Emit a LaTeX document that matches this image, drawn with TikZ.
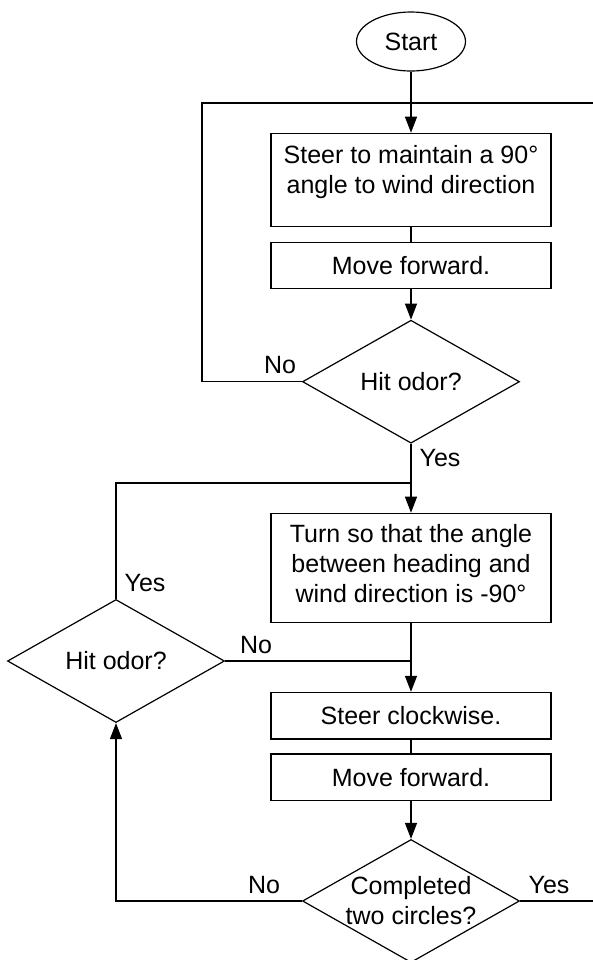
\documentclass[tikz,border=0pt]{standalone}
\usepackage{fontspec}
\setmainfont{Liberation Sans}
\usetikzlibrary{arrows.meta,shapes.geometric}
\tikzset{>/.tip={Triangle[length=8pt,width=6pt]}}

\begin{document}
\begin{tikzpicture}[x=0.5pt,y=-0.5pt,line width=0.6pt,
  font=\fontsize{12.5pt}{15pt}\selectfont,
  box/.style={draw,rectangle,align=center,inner sep=0pt,minimum width=140pt},
  decision/.style={draw,diamond,aspect=1.76,align=center,inner sep=0pt,minimum width=108.5pt,minimum height=61.5pt},
  term/.style={draw,ellipse,inner sep=0pt,minimum width=54.5pt,minimum height=29.5pt}]
\useasboundingbox (0,0) rectangle (593,960);
\node[term] (start) at (411,41.5) {Start};
\node[box,minimum height=46.7pt,text depth=10.3pt] (steer) at (411,180) {Steer to maintain a 90°\\angle to wind direction};
\node[box,minimum height=23pt] (move) at (411,265.3) {Move forward.};
\node[decision] (hit) at (411,381.7) {Hit odor?};
\node[box,minimum height=54.5pt,text depth=4.8pt] (turn) at (411,567.8) {Turn so that the angle\\between heading and\\wind direction is -90°};
\node[decision] (hittwo) at (116,661) {Hit odor?};
\node[box,minimum height=23.3pt] (steercw) at (411,715.7) {Steer clockwise.};
\node[box,minimum height=23.3pt] (movetwo) at (411,777.3) {Move forward.};
\node[decision] (done) at (411,901) {Completed\\two circles?};
\node (noa) at (280,365) {No};
\node (yesa) at (440,458) {Yes};
\node (yesb) at (145,583) {Yes};
\node (nob) at (256,645) {No};
\node (noc) at (264,885) {No};
\node (yesc) at (549,885) {Yes};
\coordinate (loopL) at (202,103);
\coordinate (loopR) at (593,103);
\coordinate (joinA) at (411,483);
\coordinate (joinB) at (411,661);
\coordinate (exit) at (593,901);
\draw[->] (start) to (steer);
\draw (steer) to (move);
\draw[->] (move) to (hit);
\draw (hit.west) -| (loopL) -- (loopR);
\draw[->] (hit) to (turn);
\draw (hittwo.north) |- (joinA);
\draw[->] (turn) to (steercw);
\draw (hittwo.east) -- (joinB);
\draw (steercw) to (movetwo);
\draw[->] (movetwo) to (done);
\draw[->] (done.west) -| (hittwo.south);
\draw (done.east) -- (exit);
\end{tikzpicture}
\end{document}
